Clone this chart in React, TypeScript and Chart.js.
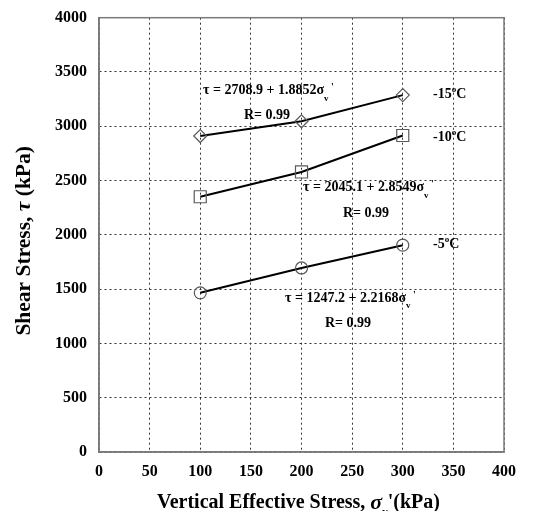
import React, { useEffect, useRef } from "react";
import { Chart, registerables } from "chart.js";

Chart.register(...registerables);

const xValues = [100, 200, 300];
const seriesM15 = [2910, 3046, 3287];
const seriesM10 = [2351, 2579, 2915];
const seriesM5 = [1466, 1695, 1905];
const seriesNames = ["-15", "-10", "-5"];
const equationTexts = ["τ = 2708.9 + 1.8852σ", "τ = 2045.1 + 2.8549σ", "τ = 1247.2 + 2.2168σ"];
const rTexts = ["R= 0.99", "R= 0.99", "R= 0.99"];
const xTicksMax = 400;
const yTicksMax = 4000;

// label anchors in data units (left edge, vertical centre)
const eqPos = [[102.7, 3329], [201.5, 2433], [183.7, 1418]];
const rPos = [[143.2, 3101], [241, 2195], [223.2, 1189]];
const tempPos = [[329.9, 3293], [329.9, 2899], [329.9, 1912]];

const FONT = "'Liberation Serif', 'Times New Roman', serif";

type Seg = { t: string; size: number; dy?: number; italic?: boolean };

function drawRich(ctx: CanvasRenderingContext2D, x: number, y: number, segs: Seg[], align: "left" | "center" = "left") {
  ctx.save();
  ctx.textBaseline = "middle";
  ctx.textAlign = "left";
  ctx.fillStyle = "#000";
  let total = 0;
  for (const s of segs) {
    ctx.font = `${s.italic ? "italic " : ""}bold ${s.size}px ${FONT}`;
    total += ctx.measureText(s.t).width;
  }
  let cx = align === "center" ? x - total / 2 : x;
  for (const s of segs) {
    ctx.font = `${s.italic ? "italic " : ""}bold ${s.size}px ${FONT}`;
    ctx.fillText(s.t, cx, y + (s.dy || 0));
    cx += ctx.measureText(s.t).width;
  }
  ctx.restore();
}

const annotPlugin = {
  id: "annot",
  beforeDatasetsDraw(chart: any) {
    const { ctx, chartArea: a } = chart;
    ctx.save();
    ctx.strokeStyle = "#7a7a7a";
    ctx.lineWidth = 1.5;
    ctx.strokeRect(a.left, a.top, a.right - a.left, a.bottom - a.top);
    ctx.restore();
  },
  afterDraw(chart: any) {
    const { ctx, scales } = chart;
    const xs = scales.x, ys = scales.y;
    for (let i = 0; i < 3; i++) {
      drawRich(ctx, xs.getPixelForValue(eqPos[i][0]), ys.getPixelForValue(eqPos[i][1]), [
        { t: equationTexts[i], size: 14 },
        { t: "v", size: 9, dy: 8 },
        { t: " '", size: 10, dy: -3 },
      ]);
      drawRich(ctx, xs.getPixelForValue(rPos[i][0]), ys.getPixelForValue(rPos[i][1]), [
        { t: rTexts[i], size: 14 },
      ]);
      drawRich(ctx, xs.getPixelForValue(tempPos[i][0]), ys.getPixelForValue(tempPos[i][1]), [
        { t: seriesNames[i], size: 14 },
        { t: "o", size: 9, dy: -5 },
        { t: "C", size: 14 },
      ]);
    }
    // axis titles
    const a = chart.chartArea;
    drawRich(ctx, (a.left + a.right) / 2 - 3, 495, [
      { t: "Vertical Effective Stress, ", size: 20 },
      { t: "σ", size: 22, italic: true },
      { t: "v", size: 11, dy: 9 },
      { t: "'(kPa)", size: 20 },
    ], "center");
    ctx.save();
    ctx.translate(16, (a.top + a.bottom) / 2 + 6);
    ctx.rotate(-Math.PI / 2);
    drawRich(ctx, 0, 0, [
      { t: "Shear Stress, ", size: 21.5 },
      { t: "τ", size: 21.5, italic: true },
      { t: " (kPa)", size: 21.5 },
    ], "center");
    ctx.restore();
  },
};

export default function App() {
  const ref = useRef<HTMLCanvasElement>(null);
  useEffect(() => {
    if (!ref.current) return;
    const mk = (data: number[], style: string, r: number) => ({
      data: xValues.map((x, i) => ({ x, y: data[i] })),
      borderColor: "#000",
      borderWidth: 2,
      pointStyle: style,
      pointRadius: r,
      pointBorderColor: "#5a5a5a",
      pointBorderWidth: 1.2,
      pointBackgroundColor: "rgba(255,255,255,0)",
      tension: 0,
      fill: false,
    });
    const tickFont = { family: FONT, size: 16, weight: "bold" as const };
    const zeroPad = (s: any) => { s.paddingTop = 0; s.paddingBottom = 0; s.paddingLeft = 0; s.paddingRight = 0; };
    const chart = new Chart(ref.current, {
      type: "line",
      data: {
        datasets: [
          mk(seriesM15, "rectRot", 6.5),
          mk(seriesM10, "rect", 8.5),
          mk(seriesM5, "circle", 6),
        ] as any,
      },
      options: {
        animation: false,
        responsive: false,
        devicePixelRatio: 1,
        layout: { padding: { top: 7, right: 38, left: 0, bottom: 0 } },
        plugins: { legend: { display: false }, tooltip: { enabled: false } },
        scales: {
          x: {
            type: "linear",
            min: 0,
            max: xTicksMax,
            afterFit: (s: any) => { s.height = 59; zeroPad(s); },
            ticks: { stepSize: 50, autoSkip: false, maxRotation: 0, font: tickFont, color: "#000", padding: 10, callback: (v: any) => String(v) },
            grid: { color: "#333", lineWidth: 1, drawTicks: false },
            border: { display: true, color: "#7a7a7a", width: 1.5, dash: [2, 3] },
          },
          y: {
            type: "linear",
            min: 0,
            max: yTicksMax,
            afterFit: (s: any) => { s.width = 91; zeroPad(s); },
            ticks: { stepSize: 500, autoSkip: false, font: tickFont, color: "#000", padding: 12, callback: (v: any) => String(v) },
            grid: { color: "#333", lineWidth: 1, drawTicks: false },
            border: { display: true, color: "#7a7a7a", width: 1.5, dash: [2, 3] },
          },
        },
      },
      plugins: [annotPlugin],
    });
    return () => chart.destroy();
  }, []);
  return (
    <div style={{ width: 534, height: 503 }}>
      <canvas ref={ref} width={534} height={503} style={{ width: 534, height: 503 }} />
    </div>
  );
}
